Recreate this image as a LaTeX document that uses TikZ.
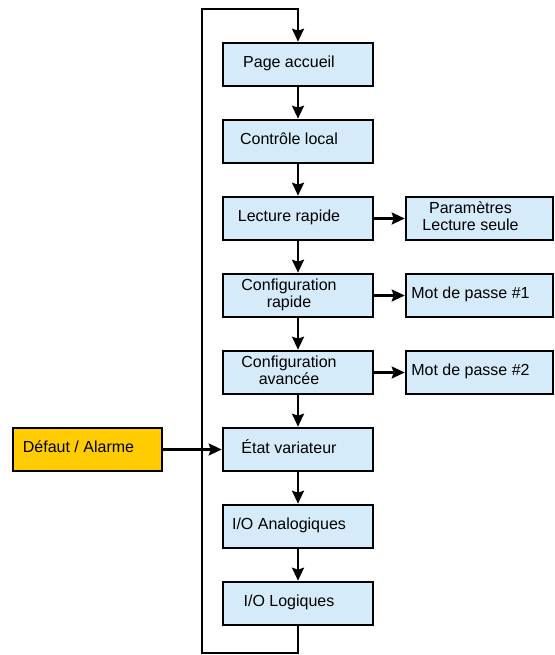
\documentclass[tikz,border=0pt]{standalone}
\usepackage{fontspec}
\setmainfont{Liberation Sans}
\usetikzlibrary{arrows.meta}
\definecolor{boxblue}{RGB}{213,235,250}
\definecolor{boxyellow}{RGB}{255,204,0}
\newcommand{\bxt}[1]{\begin{tabular}{@{}c@{\hspace{18pt}}}#1\end{tabular}}
\begin{document}
\begin{tikzpicture}[x=1pt,y=-1pt,
  stepbox/.style={draw=black,line width=2.6pt,fill=boxblue,minimum width=150pt,minimum height=43pt,inner sep=0pt,
    font=\fontsize{16}{17}\selectfont},
  sidebox/.style={stepbox,minimum width=147pt},
  alarmbox/.style={stepbox,fill=boxyellow,minimum width=149pt},
  conn/.style={line width=2.2pt,-{Stealth[length=13pt,width=12pt,inset=2pt]}},
  plain/.style={line width=2.2pt}]
\useasboundingbox (0,0) rectangle (554,655);
\node[stepbox] (pa) at (298,64.5) {\bxt{Page accueil}};
\node[stepbox] (cl) at (298,141.5) {\bxt{Contrôle local}};
\node[stepbox] (lr) at (298,218.5) {\bxt{Lecture rapide}};
\node[stepbox] (cr) at (298,295.5) {\bxt{Configuration\\rapide}};
\node[stepbox] (ca) at (298,372.5) {\bxt{Configuration\\avancée}};
\node[stepbox] (ev) at (298,449.5) {\bxt{État variateur}};
\node[stepbox] (ioa) at (298,526.5) {\bxt{I/O Analogiques}};
\node[stepbox] (iol) at (298,603.5) {\bxt{I/O Logiques}};
\node[sidebox] (pls) at (479.5,218.5) {\bxt{Paramètres\\Lecture seule}};
\node[sidebox] (mp1) at (479.5,295.5) {\bxt{Mot de passe \#1}};
\node[sidebox] (mp2) at (479.5,372.5) {\bxt{Mot de passe \#2}};
\node[alarmbox] (def) at (87.5,449.5) {\bxt{Défaut / Alarme}};
\coordinate (bl) at (202,653);
\coordinate (tl) at (202,9);
\draw[conn] (pa) -- (cl);
\draw[conn] (cl) -- (lr);
\draw[conn] (lr) -- (cr);
\draw[conn] (cr) -- (ca);
\draw[conn] (ca) -- (ev);
\draw[conn] (ev) -- (ioa);
\draw[conn] (ioa) -- (iol);
\draw[conn] (lr) -- (pls);
\draw[conn] (cr) -- (mp1);
\draw[conn] (ca) -- (mp2);
\draw[conn] (def) -- (ev);
\draw[conn] (iol.south) |- (bl) -- (tl) -| (pa.north);
\end{tikzpicture}
\end{document}
